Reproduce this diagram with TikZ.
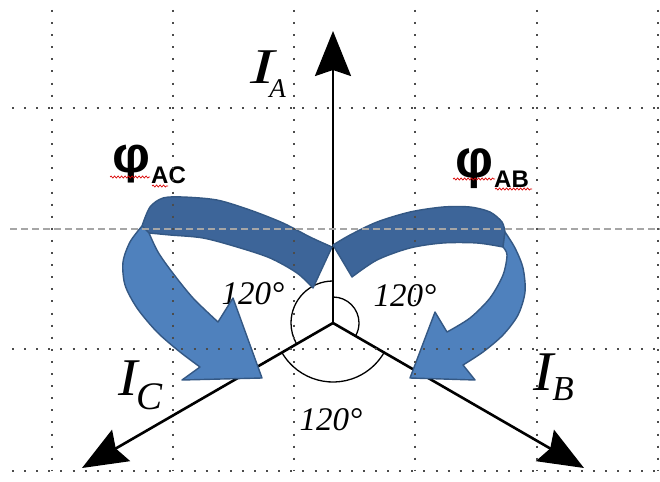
\documentclass[tikz,border=0pt]{standalone}
\usepackage{fontspec}
\usepackage{graphicx}
\setmainfont{Liberation Serif}
\newfontfamily\sansf{Liberation Sans}
\usetikzlibrary{arrows.meta,decorations.pathmorphing}
\definecolor{bluefront}{RGB}{79,129,189}
\definecolor{blueback}{RGB}{61,101,153}
\definecolor{blueedge}{RGB}{52,88,132}
\newcommand{\fsz}[1]{\fontsize{#1}{#1}\selectfont}
\begin{document}
\begin{tikzpicture}[x=1pt,y=-1pt,
  axis/.style={line width=2.6pt,-{Stealth[length=45pt,width=36pt,inset=6pt]}},
  anglearc/.style={line width=1.3pt},
  backband/.style={fill=blueback,draw=blueedge,line width=1.4pt,line join=round},
  frontband/.style={fill=bluefront,draw=blueedge,line width=1.4pt,line join=round},
  gridv/.style={line width=2pt,black!70,dash pattern=on 2pt off 10.1pt},
  gridd/.style={line width=1.4pt,black!35,dash pattern=on 7pt off 4pt},
  lbl/.style={inner sep=0pt,anchor=base west,font=\itshape},
  deg/.style={inner sep=0pt,anchor=base,font=\fsz{33}\itshape},
  phisub/.style={inner sep=0pt,anchor=base west,font=\sansf\bfseries\fsz{24}},
  spell/.style={red!85!black,line width=0.7pt,decorate,decoration={snake,amplitude=1pt,segment length=3.5pt}}
]
\useasboundingbox (0,0) rectangle (660,481);

% axes
\coordinate (O) at (333,323);
\coordinate (A) at (333,31);
\coordinate (B) at (584,468);
\coordinate (C) at (82,468);
\draw[axis] (O) -- (A);
\draw[axis] (O) -- (B);
\draw[axis] (O) -- (C);

% angle arcs
\draw[anglearc] (O) ++(90:42pt) arc[start angle=90,end angle=210,radius=42pt];
\draw[anglearc] (O) ++(90:26pt) arc[start angle=90,end angle=-30,radius=26pt];
\draw[anglearc] (O) ++(210:59pt) arc[start angle=210,end angle=330,radius=59pt];

% current labels
\node[lbl] (IA) at (250,84) {\fsz{50}\scalebox{1.45}[1]{I}\kern-5pt\raisebox{-14pt}{\fsz{27}A}};
\node[lbl] (IC) at (118,395) {\fsz{53}\scalebox{1.1}[1]{I}\kern-1pt\raisebox{-14pt}{\fsz{39}C}};
\node[lbl] (IB) at (533,390) {\fsz{56}\scalebox{1.08}[1]{I}\kern-1pt\raisebox{-10pt}{\fsz{35}B}};

% angle labels
\node[deg] (d1) at (253,304) {120°};
\node[deg] (d2) at (405,306) {120°};
\node[deg] (d3) at (331,430) {120°};

% flux labels
\node[inner sep=0pt,anchor=north west] (phiAC) at (112,145) {\resizebox*{38pt}{38pt}{\sansf\bfseries φ}};
\node[phisub] (sAC) at (151,183) {AC};
\node[inner sep=0pt,anchor=north west] (phiAB) at (455,148) {\resizebox*{38pt}{40pt}{\sansf\bfseries φ}};
\node[phisub] (sAB) at (494,187) {AB};
\draw[spell] (110,177) -- (150,177);
\draw[spell] (152,186) -- (168,186);
\draw[spell] (453,179) -- (495,179);
\draw[spell] (495,189) -- (532,189);

% left curved arrow (Phi_AC)
\filldraw[backband] plot[smooth] coordinates {(332,247) (310,237) (283,223) (250,210) (217,200) (183,197) (163,198) (150,207) (142,226)}
  -- plot[smooth] coordinates {(149,233) (170,235) (203,238) (237,247) (270,258) (297,273) (313,288)} -- cycle;
\filldraw[frontband] plot[smooth] coordinates {(142,226) (130,242) (123,262) (125,285) (137,308) (157,332) (180,352) (200,367)}
  -- (182,380) -- (262,378) -- (233,298)
  -- plot[smooth] coordinates {(218,322) (193,298) (172,272) (158,252) (149,233)} -- cycle;

% right curved arrow (Phi_AB)
\filldraw[backband] plot[smooth] coordinates {(333,245) (350,235) (377,222) (410,212) (443,207) (470,207) (490,212) (502,222) (505,232)}
  -- plot[smooth] coordinates {(503,247) (477,243) (443,243) (410,248) (377,260) (352,277)} -- cycle;
\filldraw[frontband] plot[smooth] coordinates {(505,232) (515,248) (523,268) (525,292) (518,315) (503,335) (483,352) (463,365)}
  -- (475,380) -- (410,378) -- (435,312)
  -- plot[smooth] coordinates {(447,332) (470,318) (490,298) (503,275) (507,255) (503,247)} -- cycle;

% grid
\foreach \x in {51.5,173,294,415,536.5,658} \draw[gridv] (\x,10) -- (\x,471);
\foreach \y in {108,349,471} \draw[gridv] (12,\y) -- (660,\y);
\draw[gridd] (10,229) -- (660,229);
\end{tikzpicture}
\end{document}
